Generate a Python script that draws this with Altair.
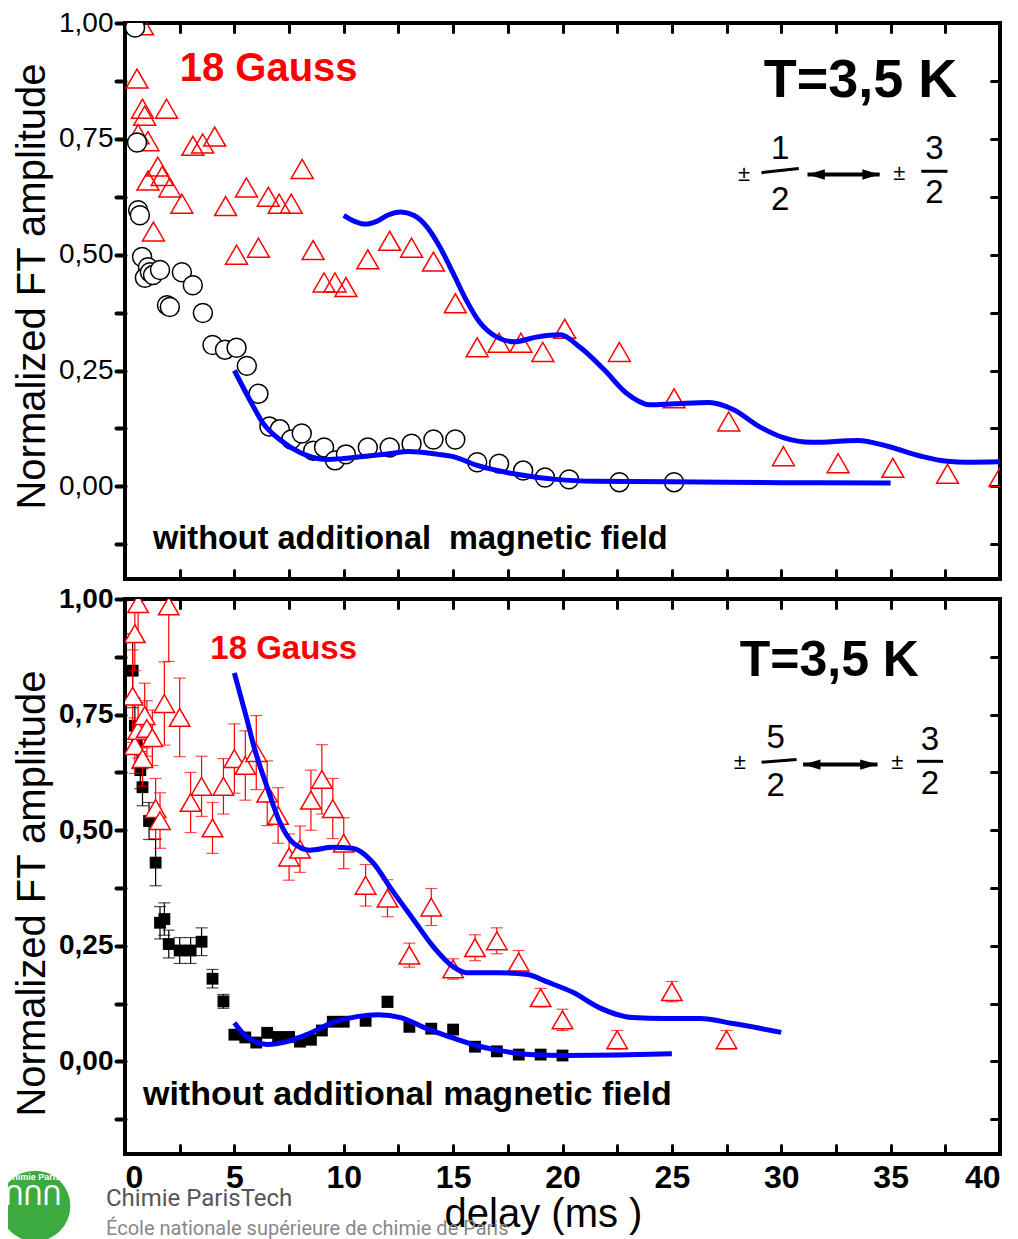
import altair as alt
import pandas as pd

FONT = "Liberation Sans"

# ---------------- top panel data ----------------
top_tri_t = [0.8, 0.55, 0.8, 0.9, 1.9, 0.6, 1.05, 1.5, 1.7, 1.05, 2.05, 2.6, 1.3, 3.1, 3.55, 4.1, 4.6,
             5.1, 5.55, 6.1, 6.55, 7.05, 7.6, 8.1, 8.6, 9.1, 9.6, 10.1, 11.1, 12.1, 13.1, 14.1, 15.1,
             16.1, 17.1, 18.1, 19.1, 20.1, 22.6, 25.1, 27.6, 30.1, 32.6, 35.1, 37.6, 40.0]
top_tri_v = [0.995, 0.88, 0.815, 0.80, 0.815, 0.76, 0.745, 0.69, 0.67, 0.66, 0.645, 0.61, 0.55, 0.735, 0.74,
             0.755, 0.605, 0.50, 0.645, 0.515, 0.625, 0.61, 0.61, 0.685, 0.51, 0.44, 0.44, 0.43, 0.49,
             0.53, 0.515, 0.485, 0.395, 0.30, 0.31, 0.31, 0.29, 0.34, 0.29, 0.19, 0.14, 0.065, 0.05,
             0.04, 0.027, 0.02]

top_circ_t = [0.46, 0.55, 0.6, 0.68, 0.78, 1.05, 0.91, 1.14, 1.28, 1.6, 2.6, 3.1, 1.92, 2.05, 3.56,
              4.0, 4.57, 5.1, 5.57, 6.1, 6.6, 7.08, 7.6, 8.08, 8.6, 9.1, 9.6, 10.1, 11.1, 12.1, 13.1,
              14.1, 15.1, 16.1, 17.1, 18.2, 19.2, 20.3, 22.6, 25.1]
top_circ_v = [0.99, 0.742, 0.596, 0.585, 0.495, 0.473, 0.45, 0.462, 0.456, 0.467, 0.462, 0.434, 0.391,
              0.387, 0.374, 0.305, 0.295, 0.299, 0.26, 0.20, 0.129, 0.123, 0.101, 0.114, 0.077, 0.084,
              0.056, 0.069, 0.084, 0.084, 0.092, 0.101, 0.101, 0.052, 0.049, 0.034, 0.019, 0.015,
              0.009, 0.009]

top_fit_hi_t = [10.0, 10.5, 11.0, 11.5, 12.0, 12.6, 13.2, 13.8, 14.4, 15.0, 15.6, 16.2, 17.0, 17.8,
                18.8, 19.9, 20.8, 21.9, 22.9, 24.0, 25.1, 26.7, 27.8, 29.0, 30.1, 31.4, 33.5, 34.9,
                36.4, 37.6, 38.5, 40.0]
top_fit_hi_v = [0.585, 0.572, 0.566, 0.572, 0.585, 0.592, 0.585, 0.56, 0.516, 0.46, 0.402, 0.355,
                0.322, 0.312, 0.322, 0.327, 0.30, 0.252, 0.202, 0.176, 0.178, 0.181, 0.166, 0.129,
                0.105, 0.095, 0.099, 0.086, 0.065, 0.054, 0.052, 0.053]
top_fit_lo_t = [5.0, 5.7, 6.3, 7.1, 8.0, 9.2, 10.0, 11.0, 12.0, 13.0, 14.3, 15.0, 16.1, 17.9, 19.7,
                21.5, 25.0, 30.0, 35.0]
top_fit_lo_v = [0.25, 0.187, 0.137, 0.10, 0.073, 0.058, 0.06, 0.065, 0.07, 0.075, 0.069, 0.064,
                0.045, 0.026, 0.015, 0.011, 0.01, 0.008, 0.007]

# ---------------- bottom panel data ----------------
bot_tri_t = [0.35, 0.45, 0.6, 0.45, 0.6, 0.8, 0.9, 1.0, 1.25, 1.4, 1.6, 1.8, 2.0, 2.5, 3.0, 3.5, 4.0,
             4.5, 5.0, 5.5, 6.0, 6.5, 7.0, 7.5, 8.0, 8.5, 9.0, 9.5, 10.0, 11.0, 12.0, 13.0, 14.0,
             15.0, 16.0, 17.0, 18.0, 19.0, 20.0, 22.5, 25.0, 27.5]
bot_tri_v = [0.79, 0.925, 0.99, 0.683, 0.716, 0.655, 0.748, 0.72, 0.70, 0.547, 0.521, 0.774, 0.985,
             0.744, 0.56, 0.595, 0.505, 0.595, 0.655, 0.64, 0.668, 0.58, 0.532, 0.442, 0.459, 0.565,
             0.61, 0.547, 0.472, 0.381, 0.353, 0.23, 0.334, 0.20, 0.246, 0.261, 0.215, 0.138, 0.09,
             0.047, 0.151, 0.047]
bot_tri_err = [0.10, 0.08, 0.08, 0.06, 0.06, 0.06, 0.07, 0.06, 0.06, 0.065, 0.06, 0.09, 0.12, 0.085,
               0.065, 0.065, 0.055, 0.06, 0.075, 0.075, 0.08, 0.07, 0.06, 0.05, 0.05, 0.065, 0.075,
               0.065, 0.055, 0.045, 0.04, 0.026, 0.04, 0.022, 0.028, 0.028, 0.025, 0.02, 0.023, 0.02,
               0.022, 0.02]

bot_sq_t = [0.35, 0.45, 0.55, 0.7, 0.8, 1.1, 1.4, 1.6, 1.8, 2.0, 2.5, 3.0, 3.5, 4.0, 4.5, 5.0, 5.5,
            6.0, 6.5, 7.0, 7.5, 8.0, 8.5, 9.0, 9.5, 10.0, 11.0, 12.0, 13.0, 14.0, 15.0, 16.0, 17.0,
            18.0, 19.0, 20.0]
bot_sq_v = [0.845, 0.726, 0.683, 0.63, 0.593, 0.52, 0.43, 0.30, 0.308, 0.254, 0.24, 0.24, 0.259,
            0.179, 0.13, 0.058, 0.052, 0.041, 0.062, 0.053, 0.053, 0.043, 0.047, 0.067, 0.086, 0.086,
            0.088, 0.129, 0.075, 0.071, 0.069, 0.032, 0.022, 0.015, 0.015, 0.013]
bot_sq_err = [0.08, 0.06, 0.05, 0.04, 0.04, 0.04, 0.05, 0.035, 0.035, 0.03, 0.028, 0.028, 0.03,
              0.02, 0.015, 0.0, 0.0, 0.0, 0.0, 0.0, 0.0, 0.0, 0.0, 0.0, 0.0, 0.0, 0.0, 0.012, 0.0,
              0.0, 0.0, 0.0, 0.0, 0.0, 0.0, 0.0]

bot_fit_hi_t = [5.0, 5.55, 5.9, 6.5, 7.1, 7.7, 8.45, 9.5, 10.4, 11.3, 12.2, 13.2, 14.1, 15.0, 15.6,
                17.1, 18.4, 19.3, 20.5, 21.7, 23.2, 24.7, 26.3, 27.8, 30.0]
bot_fit_hi_v = [0.84, 0.744, 0.68, 0.593, 0.515, 0.472, 0.457, 0.463, 0.461, 0.432, 0.371, 0.306,
                0.248, 0.205, 0.192, 0.192, 0.188, 0.172, 0.149, 0.116, 0.095, 0.093, 0.093, 0.082,
                0.063]
bot_fit_lo_t = [5.0, 5.55, 6.5, 7.4, 8.3, 9.5, 10.6, 11.6, 12.6, 13.6, 14.8, 16.1, 17.1, 18.5, 20.2,
                22.5, 25.0]
bot_fit_lo_v = [0.084, 0.054, 0.037, 0.043, 0.058, 0.084, 0.097, 0.101, 0.095, 0.075, 0.054, 0.034,
                0.024, 0.015, 0.013, 0.014, 0.017]

# axis tick positions / labels
x_tick_values = [0, 2.5, 5, 7.5, 10, 12.5, 15, 17.5, 20, 22.5, 25, 27.5, 30, 32.5, 35, 37.5, 40]
y_tick_values = [-0.125, 0.0, 0.125, 0.25, 0.375, 0.5, 0.625, 0.75, 0.875, 1.0]
X_DOMAIN = [0, 40]
Y_DOMAIN = [-0.2, 1.0]
Y_TITLE = "Normalized FT amplitude"
X_TITLE = "delay (ms )"

# ---------------- annotation layout (positions in data units) ----------------
TOP_ANN = dict(gauss=("18 Gauss", 2.5, 0.90, 40), temp=("T=3,5 K", 29.2, 0.875, 54),
               pm=[(28.3, 0.675), (35.4, 0.677)],
               digits=[("1", 29.95, 0.728), ("2", 29.95, 0.618), ("3", 37.0, 0.728), ("2", 37.0, 0.634)],
               bars=[(29.1, 0.677, 30.8, 0.686), (36.4, 0.680, 37.6, 0.680)],
               arrow=(31.2, 34.5, 0.673),
               note=("without additional \u00a0magnetic field", 1.28, -0.114, 32.5))
BOT_ANN = dict(gauss=("18 Gauss", 3.9, 0.892, 33), temp=("T=3,5 K", 28.1, 0.866, 50),
               pm=[(28.1, 0.647), (35.3, 0.647)],
               digits=[("5", 29.75, 0.700), ("2", 29.75, 0.595), ("3", 36.8, 0.696), ("2", 36.8, 0.601)],
               bars=[(29.1, 0.647, 30.7, 0.653), (36.2, 0.649, 37.4, 0.649)],
               arrow=(31.0, 34.4, 0.642),
               note=("without additional magnetic field", 0.82, -0.073, 34))

LABEL_EXPR = ("abs(datum.value*4 - round(datum.value*4)) < 0.001 ? "
              "replace(format(datum.value, '.2f'), '.', ',') : ''")
XLABEL_EXPR = "datum.value % 5 == 0 ? format(datum.value, 'd') : ''"


def xs(axis, field="t"):
    return alt.X(f"{field}:Q", scale=alt.Scale(domain=X_DOMAIN, nice=False, zero=False), axis=axis)


def ys(axis, field="v"):
    return alt.Y(f"{field}:Q", scale=alt.Scale(domain=Y_DOMAIN, nice=False, zero=False), axis=axis)


def inward(orient, values, size):
    return alt.Axis(orient=orient, values=values, labels=False, title=None, domain=False, grid=False,
                    tickSize={"expr": str(-size)}, tickWidth=3, tickColor="black", tickCap="round")


def left_axis(bold, title_y):
    return alt.Axis(orient="left", values=y_tick_values, labelExpr=LABEL_EXPR, labelOverlap=False,
                    labelFontSize=28, labelFontWeight="bold" if bold else "normal", labelColor="black",
                    labelPadding=3, domain=False, grid=False, tickSize=9, tickWidth=4,
                    tickColor="black", tickCap="round", title=Y_TITLE, titleFontSize=40,
                    titleFontWeight="normal", titleColor="black", titlePadding=6, titleY=title_y)


def bottom_axis_labels():
    return alt.Axis(orient="bottom", values=x_tick_values, labelExpr=XLABEL_EXPR, labelOverlap=False,
                    labelFontSize=32, labelFontWeight="bold", labelColor="black", labelPadding=17,
                    domain=False, grid=False, tickSize={"expr": "-9"}, tickWidth=3,
                    tickColor="black", tickCap="round", title=X_TITLE, titleFontSize=40,
                    titleFontWeight="normal", titleColor="black", titlePadding=1, titleX=418)


def annotations(ann):
    layers = []
    g = ann["gauss"]
    layers.append(alt.Chart(pd.DataFrame({"t": [g[1]], "v": [g[2]], "s": [g[0]]})).mark_text(
        align="left", baseline="middle", fontSize=g[3], fontWeight="bold", color="red", font=FONT
    ).encode(x=xs(None), y=ys(None), text="s:N"))
    tp = ann["temp"]
    layers.append(alt.Chart(pd.DataFrame({"t": [tp[1]], "v": [tp[2]], "s": [tp[0]]})).mark_text(
        align="left", baseline="middle", fontSize=tp[3], fontWeight="bold", color="black", font=FONT
    ).encode(x=xs(None), y=ys(None), text="s:N"))
    pm = pd.DataFrame({"t": [p[0] for p in ann["pm"]], "v": [p[1] for p in ann["pm"]], "s": ["±", "±"]})
    layers.append(alt.Chart(pm).mark_text(align="center", baseline="middle", fontSize=22,
                                          color="black", font=FONT)
                  .encode(x=xs(None), y=ys(None), text="s:N"))
    dg = pd.DataFrame({"s": [d[0] for d in ann["digits"]], "t": [d[1] for d in ann["digits"]],
                       "v": [d[2] for d in ann["digits"]]})
    layers.append(alt.Chart(dg).mark_text(align="center", baseline="middle", fontSize=33,
                                          color="black", font=FONT)
                  .encode(x=xs(None), y=ys(None), text="s:N"))
    bars = pd.DataFrame({"t": [b[0] for b in ann["bars"]], "v": [b[1] for b in ann["bars"]],
                         "t2": [b[2] for b in ann["bars"]], "v2": [b[3] for b in ann["bars"]]})
    layers.append(alt.Chart(bars).mark_rule(color="black", strokeWidth=3)
                  .encode(x=xs(None), y=ys(None), x2="t2:Q", y2="v2:Q"))
    a = ann["arrow"]
    arr = pd.DataFrame({"t": [a[0]], "t2": [a[1]], "v": [a[2]]})
    layers.append(alt.Chart(arr).mark_rule(color="black", strokeWidth=4)
                  .encode(x=xs(None), x2="t2:Q", y=ys(None)))
    layers.append(alt.Chart(arr).mark_point(shape="M0,0L2,-0.6L2,0.6Z", size=300, filled=True,
                                            color="black", opacity=1)
                  .encode(x=xs(None), y=ys(None)))
    layers.append(alt.Chart(arr).mark_point(shape="M0,0L-2,-0.6L-2,0.6Z", size=300, filled=True,
                                            color="black", opacity=1)
                  .encode(x=xs(None, "t2"), y=ys(None)))
    n = ann["note"]
    layers.append(alt.Chart(pd.DataFrame({"t": [n[1]], "v": [n[2]], "s": [n[0]]})).mark_text(
        align="left", baseline="middle", fontSize=n[3], fontWeight="bold", color="black", font=FONT
    ).encode(x=xs(None), y=ys(None), text="s:N"))
    return layers


frame_df = pd.DataFrame({"t": [0.0], "v": [0.0]})

# ---------------- top panel ----------------
top_layers = [
    alt.Chart(frame_df).mark_point(opacity=0).encode(x=xs(inward("bottom", x_tick_values, 9)),
                                                      y=ys(left_axis(False, 263))),
    alt.Chart(frame_df).mark_point(opacity=0).encode(x=xs(inward("top", x_tick_values, 9)),
                                                      y=ys(inward("right", y_tick_values, 9))),
    alt.Chart(pd.DataFrame({"t": top_tri_t, "v": top_tri_v})).mark_point(
        shape="triangle-up", filled=False, color="red", strokeWidth=1.5, size=480, opacity=1, clip=True
    ).encode(x=xs(None), y=ys(None)),
    alt.Chart(pd.DataFrame({"t": top_circ_t, "v": top_circ_v})).mark_point(
        shape="circle", fill="white", stroke="black", strokeWidth=1.5, size=360, opacity=1,
        fillOpacity=1, clip=True
    ).encode(x=xs(None), y=ys(None)),
    alt.Chart(pd.DataFrame({"t": top_fit_hi_t, "v": top_fit_hi_v})).mark_line(
        color="#0000ff", strokeWidth=5, interpolate="monotone", clip=True
    ).encode(x=xs(None), y=ys(None)),
    alt.Chart(pd.DataFrame({"t": top_fit_lo_t, "v": top_fit_lo_v})).mark_line(
        color="#0000ff", strokeWidth=5, interpolate="monotone", clip=True
    ).encode(x=xs(None), y=ys(None)),
] + annotations(TOP_ANN)

top = alt.layer(*top_layers).resolve_axis(x="independent", y="independent").properties(
    width=875, height=556)

# ---------------- bottom panel ----------------
tri_df = pd.DataFrame({"t": bot_tri_t, "v": bot_tri_v, "e": bot_tri_err})
tri_df["lo"] = tri_df["v"] - tri_df["e"]
tri_df["hi"] = tri_df["v"] + tri_df["e"]
sq_df = pd.DataFrame({"t": bot_sq_t, "v": bot_sq_v, "e": bot_sq_err})
sq_df["lo"] = sq_df["v"] - sq_df["e"]
sq_df["hi"] = sq_df["v"] + sq_df["e"]
sq_err_df = sq_df[sq_df["e"] > 0]

logo_df = pd.DataFrame({"t": [0.0], "v": [0.0]})

bot_layers = [
    alt.Chart(frame_df).mark_point(opacity=0).encode(x=xs(bottom_axis_labels()),
                                                      y=ys(left_axis(True, 294))),
    alt.Chart(frame_df).mark_point(opacity=0).encode(x=xs(inward("top", x_tick_values, 9)),
                                                      y=ys(inward("right", y_tick_values, 9))),
    # black squares error bars
    alt.Chart(sq_err_df).mark_rule(color="black", strokeWidth=1.2, clip=True)
    .encode(x=xs(None), y=ys(None, "lo"), y2="hi:Q"),
    alt.Chart(sq_err_df).mark_tick(orient="horizontal", color="black", size=12, thickness=1.2,
                                   clip=True)
    .encode(x=xs(None), y=ys(None, "lo")),
    alt.Chart(sq_err_df).mark_tick(orient="horizontal", color="black", size=12, thickness=1.2,
                                   clip=True)
    .encode(x=xs(None), y=ys(None, "hi")),
    alt.Chart(sq_df).mark_square(color="black", size=140, opacity=1, clip=True)
    .encode(x=xs(None), y=ys(None)),
    # red triangle error bars
    alt.Chart(tri_df).mark_rule(color="red", strokeWidth=1.2, clip=True)
    .encode(x=xs(None), y=ys(None, "lo"), y2="hi:Q"),
    alt.Chart(tri_df).mark_tick(orient="horizontal", color="red", size=12, thickness=1.2, clip=True)
    .encode(x=xs(None), y=ys(None, "lo")),
    alt.Chart(tri_df).mark_tick(orient="horizontal", color="red", size=12, thickness=1.2, clip=True)
    .encode(x=xs(None), y=ys(None, "hi")),
    alt.Chart(tri_df).mark_point(shape="triangle-up", fill="white", fillOpacity=1, stroke="red",
                                 strokeWidth=1.5, size=420, opacity=1, clip=True)
    .encode(x=xs(None), y=ys(None)),
    alt.Chart(pd.DataFrame({"t": bot_fit_hi_t, "v": bot_fit_hi_v})).mark_line(
        color="#0000ff", strokeWidth=5, interpolate="monotone", clip=True
    ).encode(x=xs(None), y=ys(None)),
    alt.Chart(pd.DataFrame({"t": bot_fit_lo_t, "v": bot_fit_lo_v})).mark_line(
        color="#0000ff", strokeWidth=5, interpolate="monotone", clip=True
    ).encode(x=xs(None), y=ys(None)),
] + annotations(BOT_ANN) + [
    # watermark logo below the plot
    alt.Chart(logo_df).mark_point(shape="circle", filled=True, color="#3daa3f", size=5000, opacity=1)
    .encode(x=alt.value(-90), y=alt.value(607)),
    alt.Chart(logo_df).mark_text(text="Chimie Paris", color="white", fontSize=9, font=FONT,
                                 fontWeight="bold")
    .encode(x=alt.value(-92), y=alt.value(578)),
    alt.Chart(logo_df).mark_text(text="ՈՈՈ", color="white", fontSize=26, font="DejaVu Sans")
    .encode(x=alt.value(-92), y=alt.value(598)),
    alt.Chart(logo_df).mark_text(text="Chimie ParisTech", color="#555555", fontSize=24,
                                 font="Roboto", align="left")
    .encode(x=alt.value(-19), y=alt.value(600)),
    alt.Chart(logo_df).mark_text(text="École nationale supérieure de chimie de Paris",
                                 color="#888888", fontSize=20, font="Roboto", align="left")
    .encode(x=alt.value(-19), y=alt.value(630)),
]

bottom = alt.layer(*bot_layers).resolve_axis(x="independent", y="independent").properties(
    width=875, height=555)

chart = alt.vconcat(top, bottom, spacing=20, bounds="flush").properties(
    padding={"left": -11, "top": -1, "right": 5, "bottom": 0}
).configure(font=FONT).configure_view(stroke="black", strokeWidth=4)

chart.save("out.html", embed_options={"renderer": "svg", "actions": False})
